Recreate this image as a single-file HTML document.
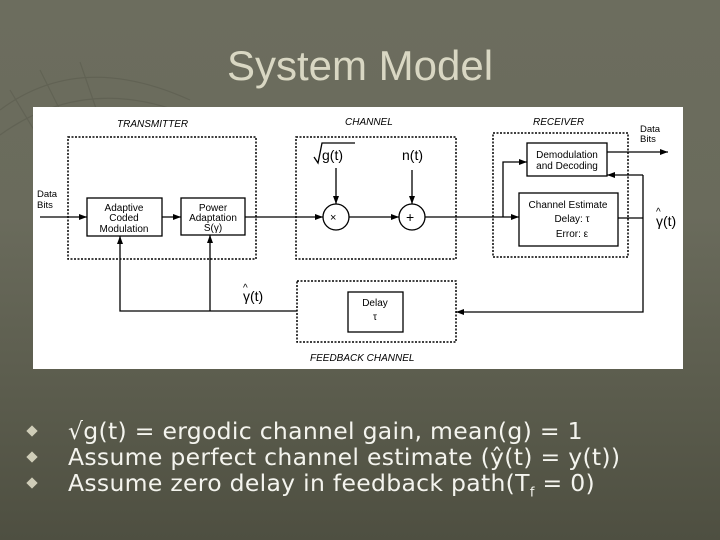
<!DOCTYPE html>
<html><head><meta charset="utf-8"><style>
html,body{margin:0;padding:0}
body{width:720px;height:540px;overflow:hidden;position:relative;background:linear-gradient(180deg,#6c6d5e 0%,#6a6b5c 40%,#5a5b4c 75%,#4e4f41 100%);font-family:"Liberation Sans",sans-serif}
.title{position:absolute;left:0;width:720px;top:42px;text-align:center;color:#d9d7c3;font-size:42px}
.b{position:absolute;left:68px;color:#f4f4ee;font-family:"DejaVu Sans",sans-serif;font-size:23.5px;line-height:26px;letter-spacing:0.3px;white-space:nowrap}
.d{position:absolute;left:28px;width:8px;height:8px;background:#cfcdb8;transform:rotate(45deg)}
</style></head><body>
<svg width="720" height="540" style="position:absolute;left:0;top:0">
<g stroke="#5e5f51" fill="none" stroke-width="1.2" opacity="0.7">
<path d="M0 110 Q80 50 190 100"/><path d="M0 135 Q90 70 200 120"/><path d="M10 90 L40 140"/><path d="M40 70 L70 130"/><path d="M80 62 L100 120"/>
</g>
<rect x="33" y="107" width="650" height="262" fill="#fff"/>
<defs><marker id="a" markerWidth="8" markerHeight="6" refX="8" refY="3" orient="auto" markerUnits="userSpaceOnUse"><path d="M0 0 L8 3 L0 6z" fill="#000"/></marker></defs>
<g fill="none" stroke="#000" stroke-width="1.5" stroke-dasharray="2 1.5">
<rect x="68" y="137" width="188" height="122"/>
<rect x="296" y="137" width="160" height="122"/>
<rect x="493" y="133" width="135" height="124"/>
<rect x="297" y="281" width="159" height="61"/>
</g>
<g fill="none" stroke="#000" stroke-width="1.3">
<rect x="87" y="198" width="75" height="38"/>
<rect x="181" y="198" width="64" height="37"/>
<rect x="527" y="143" width="80" height="33"/>
<rect x="519" y="193" width="99" height="53"/>
<rect x="348" y="292" width="55" height="40"/>
<circle cx="336" cy="217" r="13"/><circle cx="412" cy="217" r="13"/>
<line x1="40" y1="217" x2="87" y2="217" marker-end="url(#a)"/>
<line x1="162" y1="217" x2="181" y2="217" marker-end="url(#a)"/>
<line x1="245" y1="217" x2="323" y2="217" marker-end="url(#a)"/>
<line x1="349" y1="217" x2="399" y2="217" marker-end="url(#a)"/>
<line x1="425" y1="217" x2="519" y2="217" marker-end="url(#a)"/>
<line x1="336" y1="168" x2="336" y2="204" marker-end="url(#a)"/>
<line x1="412" y1="170" x2="412" y2="204" marker-end="url(#a)"/>
<polyline points="503,217 503,162 527,162" marker-end="url(#a)"/>
<line x1="607" y1="152" x2="668" y2="152" marker-end="url(#a)"/>
<polyline points="618,218 643,218"/>
<polyline points="643,175 643,312 456,312" marker-end="url(#a)"/>
<line x1="643" y1="175" x2="607" y2="175" marker-end="url(#a)"/>
<polyline points="297,311 120,311 120,236" marker-end="url(#a)"/>
<line x1="210" y1="311" x2="210" y2="235" marker-end="url(#a)"/>
<path d="M314 157 L318 163 L322 143 L355 143"/>
</g>
<g font-family="Liberation Sans" fill="#000">
<g font-style="italic" font-size="10"><text x="117" y="127">TRANSMITTER</text><text x="345" y="125">CHANNEL</text><text x="533" y="125">RECEIVER</text><text x="310" y="361">FEEDBACK CHANNEL</text></g>
<g font-size="9.5"><text x="37" y="197">Data</text><text x="37" y="208">Bits</text><text x="640" y="132">Data</text><text x="640" y="142">Bits</text></g>
<g font-size="10" text-anchor="middle"><text x="124" y="211">Adaptive</text><text x="124" y="221">Coded</text><text x="124" y="232">Modulation</text>
<text x="213" y="211">Power</text><text x="213" y="221">Adaptation</text><text x="213" y="231">S(γ)</text>
<text x="567" y="158">Demodulation</text><text x="567" y="169">and Decoding</text>
<text x="568" y="208">Channel Estimate</text><text x="572" y="222">Delay: τ</text><text x="572" y="237">Error: ε</text>
<text x="375" y="306">Delay</text><text x="375" y="320">τ</text></g>
<text x="322" y="160" font-size="14">g(t)</text>
<text x="402" y="160" font-size="14">n(t)</text>
<text x="330" y="221" font-size="11">×</text><text x="406" y="222" font-size="14">+</text>
<text x="243" y="301" font-size="14">γ(t)</text><text x="243" y="291" font-size="10">^</text>
<text x="656" y="226" font-size="14">γ(t)</text><text x="656" y="215" font-size="10">^</text>
</g>
</svg>
<div class="title">System Model</div>
<div class="d" style="top:427px"></div><div class="d" style="top:453px"></div><div class="d" style="top:479px"></div>
<div class="b" style="top:418px">√g(t) = ergodic channel gain, mean(g) = 1</div>
<div class="b" style="top:444px">Assume perfect channel estimate (ŷ(t) = y(t))</div>
<div class="b" style="top:470px">Assume zero delay in feedback path(T<sub style="font-size:13px">f</sub> = 0)</div>
</body></html>
